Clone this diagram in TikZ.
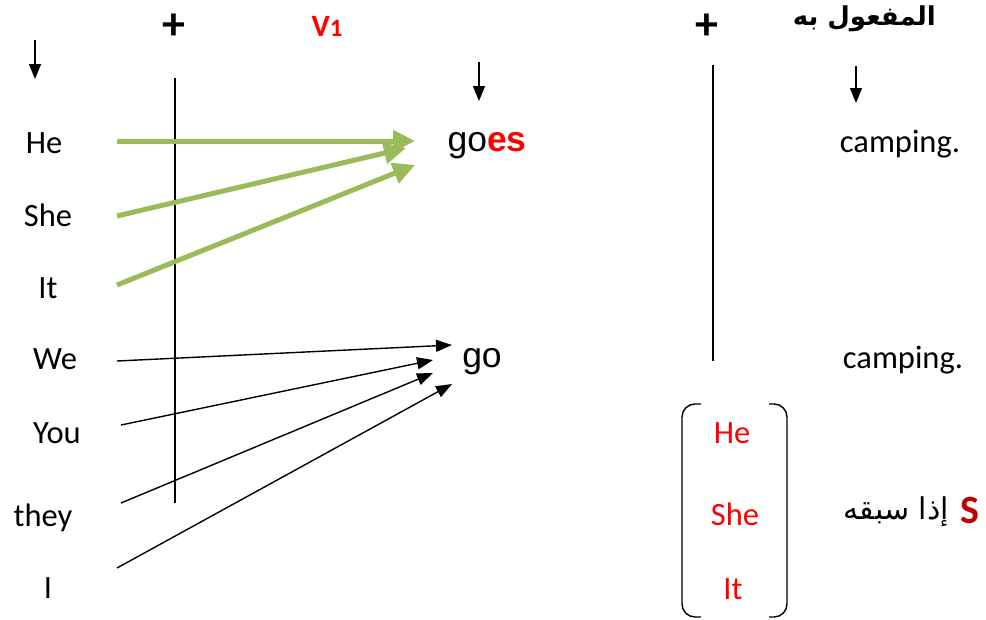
\documentclass[tikz,border=0pt]{standalone}
\usepackage{fontspec}
\setmainfont{Carlito}
\newfontfamily\arial{Liberation Sans}
\newfontfamily\arabicfont[Script=Arabic]{DejaVu Sans}
\TeXXeTstate=1
\usetikzlibrary{arrows.meta}
\definecolor{arrowgreen}{HTML}{9BBB59}
\definecolor{darkred}{HTML}{C00000}
\tikzset{
  word/.style={anchor=base, inner sep=0pt, font=\fontsize{32.5}{36}\selectfont},
  redword/.style={word, text=red},
  verb/.style={anchor=base, inner sep=0pt, font=\arial\fontsize{35.5}{40}\selectfont},
  plus/.style={inner sep=0pt, font=\bfseries\fontsize{46}{50}\selectfont},
  downarrow/.style={line width=1.5pt, -{Triangle[width=12pt,length=15pt]}},
  greenarrow/.style={line width=5pt, draw=arrowgreen, -{Triangle[width=21pt,length=22pt]}},
  blackarrow/.style={line width=1.4pt, -{Triangle[width=12pt,length=16pt]}},
  rule/.style={line width=1.4pt},
  bracket/.style={line width=1.4pt, rounded corners=13pt}
}
\begin{document}
\begin{tikzpicture}[x=1pt,y=-1pt]
\useasboundingbox (0,0) rectangle (986,619);
% header
\node[plus] (plus1) at (174,27) {+};
\node[inner sep=0pt, text=red, font=\bfseries\fontsize{31}{34}\selectfont] (v1) at (327,26) {V\fontsize{25}{28}\selectfont 1};
\node[plus] (plus2) at (707,27) {+};
\node[inner sep=0pt, anchor=east, font=\arabicfont\bfseries\fontsize{26}{30}\selectfont] (obj) at (936,19) {\beginR المفعول به\endR};
% down arrows
\coordinate (d1a) at (35,40); \coordinate (d1b) at (35,79);
\coordinate (d2a) at (479,62); \coordinate (d2b) at (479,101);
\coordinate (d3a) at (856,66); \coordinate (d3b) at (856,103);
\draw[downarrow] (d1a) -- (d1b);
\draw[downarrow] (d2a) -- (d2b);
\draw[downarrow] (d3a) -- (d3b);
% vertical rules
\coordinate (r1a) at (175,78); \coordinate (r1b) at (175,503);
\coordinate (r2a) at (713,65); \coordinate (r2b) at (713,361);
\draw[rule] (r1a) -- (r1b);
\draw[rule] (r2a) -- (r2b);
% subjects
\node[word] (he) at (44,153) {He};
\node[word] (she) at (48,226) {She};
\node[word] (it) at (48,298) {It};
\node[word] (we) at (55,369) {We};
\node[word] (you) at (57,443) {You};
\node[word] (they) at (43,526) {they};
\node[word] (i) at (48,598) {I};
% verbs
\node[verb] (goes) at (487,151) {go{\bfseries\color{red}es}};
\node[verb] (go) at (482,367) {go};
% objects
\node[word] (camp1) at (900,152) {camping.};
\node[word] (camp2) at (903,368) {camping.};
% green arrows
\coordinate (g1s) at (117,141); \coordinate (g1e) at (415,141);
\coordinate (g2s) at (117,216); \coordinate (g2e) at (406,148);
\coordinate (g3s) at (117,285); \coordinate (g3e) at (415,165);
\draw[greenarrow] (g1s) -- (g1e);
\draw[greenarrow] (g2s) -- (g2e);
\draw[greenarrow] (g3s) -- (g3e);
% black arrows
\coordinate (b1s) at (117,361); \coordinate (b1e) at (452,345);
\coordinate (b2s) at (121,425); \coordinate (b2e) at (433,360);
\coordinate (b3s) at (121,503); \coordinate (b3e) at (433,373);
\coordinate (b4s) at (117,568); \coordinate (b4e) at (452,384);
\draw[blackarrow] (b1s) -- (b1e);
\draw[blackarrow] (b2s) -- (b2e);
\draw[blackarrow] (b3s) -- (b3e);
\draw[blackarrow] (b4s) -- (b4e);
% bracket
\coordinate (lbt) at (701,404); \coordinate (lbb) at (701,617);
\coordinate (rbt) at (769,404); \coordinate (rbb) at (769,617);
\draw[bracket] (lbt) -- (682,404) -- (682,617) -- (lbb);
\draw[bracket] (rbt) -- (787,404) -- (787,617) -- (rbb);
\node[redword] (she2he) at (732,443) {He};
\node[redword] (she2) at (735,525) {She};
\node[redword] (she2it) at (733,599) {It};
% rule
\node[inner sep=0pt, text=darkred, font=\bfseries\fontsize{40}{44}\selectfont] (s) at (970,511) {S};
\node[inner sep=0pt, anchor=east, font=\arabicfont\fontsize{30}{36}\selectfont] (ifprec) at (949,512) {\beginR إذا سبقه\endR};
\end{tikzpicture}
\end{document}
